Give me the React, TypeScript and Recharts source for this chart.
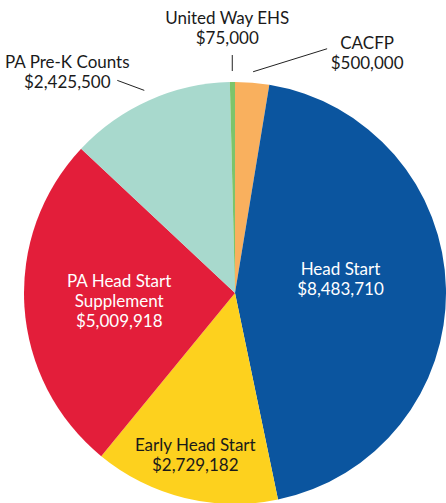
import React from 'react';
import { PieChart, Pie, Cell } from 'recharts';

const categories = [
  'CACFP',
  'Head Start',
  'Early Head Start',
  'PA Head Start Supplement',
  'PA Pre-K Counts',
  'United Way EHS',
];
const amounts = [500000, 8483710, 2729182, 5009918, 2425500, 75000];
const nameLines = [
  ['CACFP'],
  ['Head Start'],
  ['Early Head Start'],
  ['PA Head Start', 'Supplement'],
  ['PA Pre-K Counts'],
  ['United Way EHS'],
];
const colors = ['#F9B05E', '#0B559F', '#FDD11E', '#E31E3A', '#A8D9CD', '#7DC46B'];

// label placement: inside ones sit at a fraction of the radius, outside ones get a leader line
const placement: any[] = [
  { out: true, ldx: 74, ldy: -23, tdx: 40, tdy: -6 },
  { f: 0.5, dy: -12, fill: '#fff' },
  { f: 0.79, dy: 0, fill: '#1a1a1a' },
  { f: 0.55, dy: 0, fill: '#fff' },
  { out: true, ldx: -27, ldy: -10, tdx: -50, tdy: -18 },
  { out: true, ldx: 0, ldy: -16, tdx: -5, tdy: -37 },
];

const data = categories.map((c, i) => ({ name: c, value: amounts[i] }));
const money = (v: number) => '$' + v.toLocaleString('en-US');
const RAD = Math.PI / 180;
const LH = 20;
const FONT = 'Lato';
const FS = 17;

const renderLabel = (props: any) => {
  const { cx, cy, midAngle, outerRadius, index } = props;
  const p = placement[index];
  const lines = [...nameLines[index], money(amounts[index])];
  const cos = Math.cos(-midAngle * RAD);
  const sin = Math.sin(-midAngle * RAD);
  if (p.out) {
    const sx = cx + (outerRadius + 11) * cos;
    const sy = cy + (outerRadius + 11) * sin;
    const ex = sx + p.ldx;
    const ey = sy + p.ldy;
    const tx = ex + p.tdx;
    const ty = ey + p.tdy;
    return (
      <g>
        <line x1={sx} y1={sy} x2={ex} y2={ey} stroke="#222" strokeWidth={1} />
        <text x={tx} y={ty} textAnchor="middle" fill="#1a1a1a" fontSize={FS} fontFamily={FONT}>
          {lines.map((l, i) => (
            <tspan key={i} x={tx} y={ty + i * LH + 6}>{l}</tspan>
          ))}
        </text>
      </g>
    );
  }
  const x = cx + outerRadius * p.f * cos;
  const y = cy + outerRadius * p.f * sin + p.dy;
  const top = y - ((lines.length - 1) * LH) / 2;
  return (
    <text x={x} y={y} textAnchor="middle" fill={p.fill} fontSize={FS} fontFamily={FONT}>
      {lines.map((l, i) => (
        <tspan key={i} x={x} y={top + i * LH + 6}>{l}</tspan>
      ))}
    </text>
  );
};

export default function App() {
  return (
    <div style={{ position: 'absolute', left: 0, top: 0, background: '#fff' }}>
      <PieChart width={446} height={503} margin={{ top: 0, right: 0, bottom: 0, left: 0 }}>
        <Pie
          data={data}
          dataKey="value"
          nameKey="name"
          cx={235}
          cy={293}
          outerRadius={211}
          startAngle={90}
          endAngle={-270}
          stroke="none"
          label={renderLabel}
          labelLine={false}
          isAnimationActive={false}
        >
          {data.map((d, i) => (
            <Cell key={d.name} fill={colors[i]} />
          ))}
        </Pie>
      </PieChart>
    </div>
  );
}
